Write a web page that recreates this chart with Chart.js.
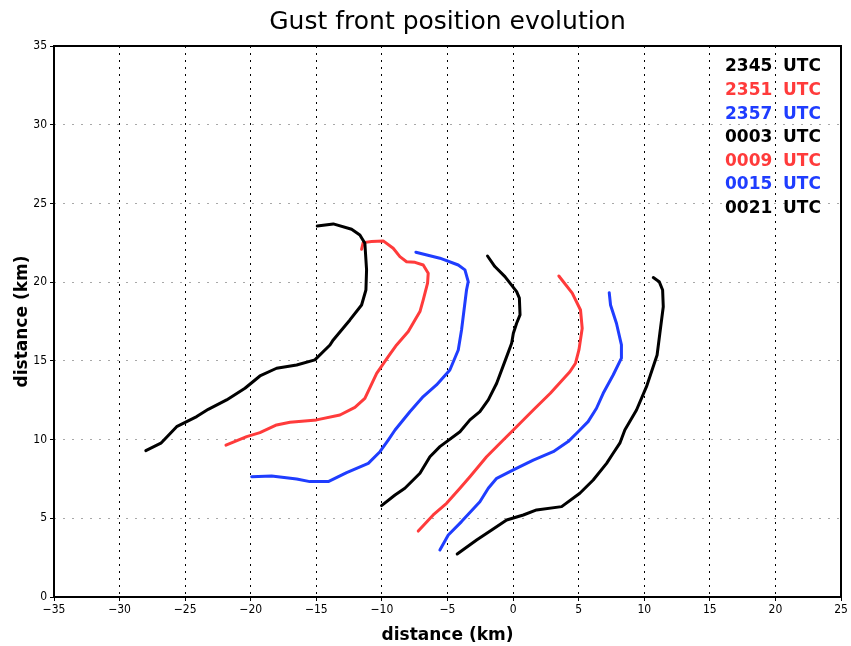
<!DOCTYPE html>
<html>
<head>
<meta charset="utf-8">
<script src="https://cdn.jsdelivr.net/npm/chart.js@4/dist/chart.umd.min.js"></script>
<style>
  html, body { margin: 0; padding: 0; background: #fff; }
  #wrap { width: 851px; height: 646px; }
</style>
</head>
<body>
<div id="wrap"><canvas id="gustChart" width="851" height="646"></canvas></div>
<script>
// Gust front positions (km), one pair of arrays per time
const times = ['2345', '2351', '2357', '0003', '0009', '0015', '0021'];
const lineColors = ['#000000', '#ff3b3b', '#1f3dff', '#000000', '#ff3b3b', '#1f3dff', '#000000'];

const front2345X = [-28.0, -26.85, -25.65, -24.12, -23.24, -21.84, -20.44, -19.30, -18.03, -16.5, -15.11, -13.96, -13.71, -12.44, -11.55, -11.22, -11.17, -11.30, -11.68, -12.31, -13.71, -14.93];
const front2345Y = [9.30, 9.77, 10.82, 11.46, 11.92, 12.52, 13.26, 14.04, 14.53, 14.74, 15.06, 16.01, 16.33, 17.60, 18.55, 19.50, 20.78, 22.47, 23.0, 23.36, 23.70, 23.57];

const front2351X = [-21.89, -20.31, -19.30, -18.03, -17.01, -14.98, -13.20, -12.06, -11.30, -10.40, -9.52, -8.88, -7.99, -7.48, -7.10, -6.85, -6.52, -6.47, -6.85, -7.48, -8.12, -8.63, -9.14, -9.90, -10.79, -11.43, -11.55];
const front2351Y = [9.64, 10.19, 10.44, 10.93, 11.10, 11.25, 11.56, 12.05, 12.62, 14.21, 15.27, 16.01, 16.86, 17.60, 18.13, 18.87, 19.93, 20.57, 21.09, 21.26, 21.30, 21.62, 22.15, 22.62, 22.58, 22.51, 22.09];

const front2357X = [-19.93, -18.41, -16.50, -15.49, -14.09, -12.69, -11.04, -10.15, -9.52, -9.0, -7.87, -6.85, -5.84, -4.82, -4.18, -3.93, -3.55, -3.42, -3.67, -4.18, -5.58, -7.41];
const front2357Y = [7.64, 7.69, 7.50, 7.33, 7.33, 7.90, 8.49, 9.23, 9.97, 10.61, 11.77, 12.73, 13.47, 14.42, 15.69, 16.96, 19.50, 20.03, 20.78, 21.09, 21.52, 21.90];

const front0003X = [-10.03, -9.0, -8.25, -7.10, -6.34, -5.58, -4.05, -3.29, -2.53, -1.89, -1.25, -0.49, -0.11, 0.02, 0.27, 0.53, 0.48, 0.27, -0.62, -1.39, -1.95];
const front0003Y = [5.80, 6.48, 6.91, 7.86, 8.91, 9.55, 10.50, 11.25, 11.77, 12.52, 13.58, 15.27, 16.12, 16.75, 17.39, 17.92, 18.98, 19.40, 20.35, 20.99, 21.66];

const front0009X = [-7.23, -6.09, -5.07, -4.05, -3.29, -2.02, -0.75, 0.02, 1.54, 2.84, 4.33, 4.76, 5.02, 5.27, 5.14, 4.51, 3.49];
const front0009Y = [4.19, 5.21, 5.95, 6.91, 7.64, 8.91, 9.97, 10.61, 11.88, 12.94, 14.31, 14.85, 15.69, 17.07, 18.23, 19.30, 20.39];

const front0015X = [-5.58, -4.94, -3.93, -2.53, -1.89, -1.25, 0.02, 1.54, 3.06, 4.20, 4.96, 5.72, 6.36, 6.87, 7.63, 8.26, 8.26, 7.88, 7.43, 7.33];
const front0015Y = [2.99, 3.94, 4.79, 6.05, 6.91, 7.54, 8.07, 8.70, 9.23, 9.87, 10.50, 11.14, 11.99, 12.94, 14.10, 15.17, 16.01, 17.39, 18.55, 19.33];

const front0021X = [-4.26, -2.78, -1.63, -0.49, 0.78, 1.79, 3.70, 5.09, 6.11, 7.13, 7.63, 8.14, 8.52, 9.41, 10.17, 10.98, 11.19, 11.45, 11.40, 11.14, 10.69];
const front0021Y = [2.73, 3.62, 4.26, 4.89, 5.21, 5.53, 5.74, 6.59, 7.43, 8.49, 9.13, 9.77, 10.61, 11.88, 13.36, 15.37, 16.75, 18.44, 19.50, 20.03, 20.29];

const frontsX = [front2345X, front2351X, front2357X, front0003X, front0009X, front0015X, front0021X];
const frontsY = [front2345Y, front2351Y, front2357Y, front0003Y, front0009Y, front0015Y, front0021Y];

// axis ranges
const xMin = -35, xMax = 25;
const yMin = 0, yMax = 35;
const tickStep = 5;

const datasets = times.map((t, i) => ({
    label: t,
    data: frontsX[i].map((x, j) => ({ x: x, y: frontsY[i][j] })),
    borderColor: lineColors[i],
    borderWidth: 3,
    pointRadius: 0,
    fill: false,
    tension: 0,
    borderCapStyle: 'round',
    borderJoinStyle: 'round'
}));

const fmtTick = v => (v < 0 ? '\u2212' + Math.abs(v) : String(v));

// frame around the plot + time legend in the upper right corner
const framePlugin = {
    id: 'frame',
    afterDraw(chart) {
        const { ctx, chartArea: a } = chart;
        ctx.save();
        ctx.strokeStyle = '#000';
        ctx.lineWidth = 2;
        ctx.strokeRect(a.left, a.top, a.right - a.left, a.bottom - a.top);

        ctx.font = 'bold 17px "DejaVu Sans"';
        ctx.textBaseline = 'middle';
        chart.data.datasets.forEach((ds, i) => {
            const y = a.top + 21 + i * 23.6;
            ctx.fillStyle = ds.borderColor;
            ctx.fillText(ds.label, a.right - 116, y);
            ctx.fillText('UTC', a.right - 58, y);
        });
        ctx.restore();
    }
};

const ctxGust = document.getElementById('gustChart').getContext('2d');
new Chart(ctxGust, {
    type: 'line',
    data: { datasets: datasets },
    options: {
        responsive: false,
        animation: false,
        devicePixelRatio: 1,
        layout: { padding: { left: 0, right: 10, top: 0, bottom: 0 } },
        plugins: {
            legend: { display: false },
            tooltip: { enabled: false },
            title: {
                display: true,
                fullSize: false,
                text: 'Gust front position evolution',
                color: '#000',
                font: { family: 'DejaVu Sans', size: 25, weight: 'normal' },
                padding: { top: 7, bottom: 9 }
            }
        },
        scales: {
            x: {
                type: 'linear',
                min: xMin,
                max: xMax,
                afterFit: s => { s.height = 49; },
                ticks: {
                    stepSize: tickStep,
                    color: '#000',
                    font: { family: 'DejaVu Sans Condensed, DejaVu Sans', size: 12 },
                    padding: 2,
                    maxRotation: 0,
                    callback: fmtTick
                },
                grid: {
                    color: c => (c.tick && (c.tick.value === xMin || c.tick.value === xMax)) ? 'rgba(0,0,0,0)' : '#000',
                    lineWidth: 1,
                    tickLength: 4,
                    tickColor: '#000',
                    tickBorderDash: []
                },
                border: { display: false, dash: [2, 5] },
                title: {
                    display: true,
                    text: 'distance (km)',
                    color: '#000',
                    font: { family: 'DejaVu Sans', size: 17, weight: 'bold' },
                    padding: { top: 4, bottom: 0 }
                }
            },
            y: {
                type: 'linear',
                min: yMin,
                max: yMax,
                afterFit: s => { s.width = 54; },
                ticks: {
                    stepSize: tickStep,
                    color: '#000',
                    font: { family: 'DejaVu Sans Condensed, DejaVu Sans', size: 12 },
                    padding: 3,
                    callback: fmtTick
                },
                grid: {
                    color: c => (c.tick && (c.tick.value === yMin || c.tick.value === yMax)) ? 'rgba(0,0,0,0)' : '#a8a8a8',
                    lineWidth: 1,
                    tickLength: 4,
                    tickColor: '#000',
                    tickBorderDash: []
                },
                border: { display: false, dash: [2, 7] },
                title: {
                    display: true,
                    text: 'distance (km)',
                    color: '#000',
                    font: { family: 'DejaVu Sans', size: 17, weight: 'bold' },
                    padding: { top: 12, bottom: 0 }
                }
            }
        }
    },
    plugins: [framePlugin]
});
</script>
</body>
</html>
